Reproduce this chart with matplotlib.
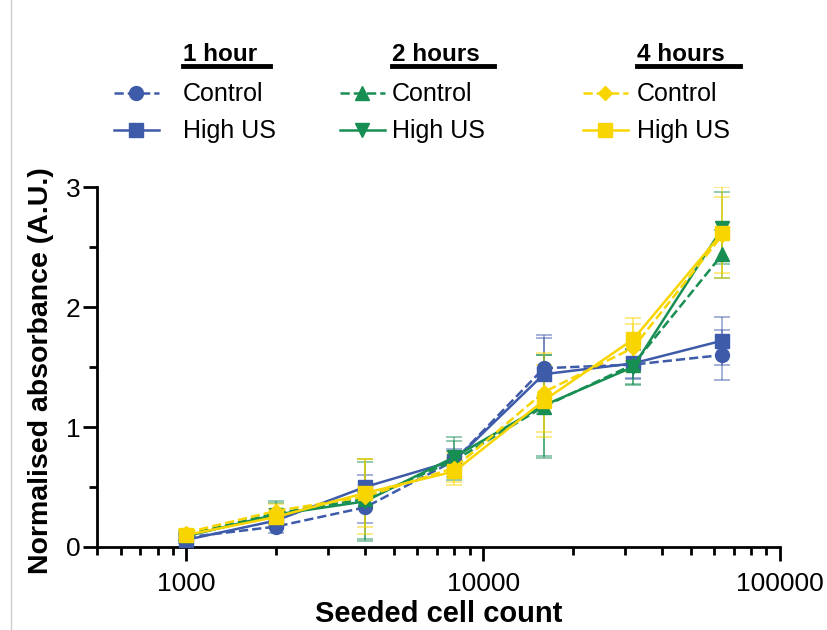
import numpy as np
import matplotlib.pyplot as plt
from matplotlib.lines import Line2D

plt.rcParams['font.family'] = ['Liberation Sans', 'DejaVu Sans']

# ## Data

cells = [1000, 2000, 4000, 8000, 16000, 32000, 64000]

h1_control = [0.08, 0.17, 0.33, 0.72, 1.49, 1.52, 1.60]
h1_control_err = [0.03, 0.05, 0.13, 0.08, 0.25, 0.12, 0.21]
h1_high = [0.06, 0.22, 0.50, 0.72, 1.44, 1.53, 1.72]
h1_high_err = [0.03, 0.06, 0.10, 0.10, 0.33, 0.12, 0.20]

h2_control = [0.10, 0.28, 0.40, 0.72, 1.17, 1.52, 2.44]
h2_control_err = [0.03, 0.09, 0.33, 0.16, 0.43, 0.16, 0.20]
h2_high = [0.09, 0.27, 0.38, 0.75, 1.18, 1.50, 2.66]
h2_high_err = [0.03, 0.11, 0.33, 0.17, 0.42, 0.15, 0.30]

h4_control = [0.12, 0.30, 0.42, 0.66, 1.29, 1.66, 2.60]
h4_control_err = [0.03, 0.06, 0.31, 0.12, 0.33, 0.20, 0.32]
h4_high = [0.10, 0.25, 0.45, 0.63, 1.22, 1.73, 2.62]
h4_high_err = [0.03, 0.07, 0.28, 0.11, 0.30, 0.18, 0.38]

blue = '#3E5BA9'
green = '#178E52'
yellow = '#F8D500'

series = [
    (h1_control, h1_control_err, blue, 'o', '--', 'Control'),
    (h1_high, h1_high_err, blue, 's', '-', 'High US'),
    (h2_control, h2_control_err, green, '^', '--', 'Control'),
    (h2_high, h2_high_err, green, 'v', '-', 'High US'),
    (h4_control, h4_control_err, yellow, 'D', '--', 'Control'),
    (h4_high, h4_high_err, yellow, 's', '-', 'High US'),
]

fig = plt.figure(figsize=(8.28, 6.3), dpi=100)
ax = fig.add_axes([97 / 828, 1 - 547 / 630, (780 - 97) / 828, 360 / 630])

for vals, err, col, mk, ls, lab in series:
    ax.errorbar(cells, vals, yerr=err, fmt='none', ecolor=col, alpha=0.5,
                elinewidth=1.3, capsize=6, capthick=1.3, zorder=2)
    ms = 7.5 if mk == 'D' else 10
    ax.plot(cells, vals, color=col, linestyle=ls, linewidth=1.8,
            marker=mk, markersize=ms, zorder=3, clip_on=False)

ax.set_xscale('log')
ax.set_xlim(500, 100000)
ax.set_ylim(0, 3)
ax.set_xticks([1000, 10000, 100000])
ax.set_xticklabels(['1000', '10000', '100000'])
ax.set_yticks([0, 1, 2, 3])
ax.set_yticks([0.5, 1.5, 2.5], minor=True)

for s in ['top', 'right']:
    ax.spines[s].set_visible(False)
for s in ['left', 'bottom']:
    ax.spines[s].set_linewidth(2)

ax.tick_params(which='major', direction='out', length=10, width=2,
               labelsize=19, pad=8)
ax.tick_params(which='minor', direction='out', length=6, width=2)
ax.tick_params(axis='y', which='major', pad=2)

ax.set_xlabel('Seeded cell count', fontsize=21, fontweight='bold')
ax.xaxis.label.set_verticalalignment('baseline')
ax.xaxis.set_label_coords(0.5, -(622 - 547) / 360)

ax.set_ylabel('Normalised absorbance (A.U.)', fontsize=20.5, fontweight='bold')
ax.yaxis.label.set_verticalalignment('center')
ax.yaxis.set_label_coords((41 - 97) / 683, 0.49)

# ## Legend (drawn by hand, three groups)

def fx(px):
    return px / 828

def fy(py):
    return 1 - py / 630

groups = [
    ('1 hour', 114, 183, 270, [series[0], series[1]]),
    ('2 hours', 340, 392, 494, [series[2], series[3]]),
    ('4 hours', 583, 637, 740, [series[4], series[5]]),
]

for title, hx, tx, ux, items in groups:
    fig.text(fx(tx), fy(61), title, fontsize=17.5, fontweight='bold',
             ha='left', va='baseline')
    fig.add_artist(Line2D([fx(tx), fx(ux)], [fy(66), fy(66)],
                          color='black', linewidth=3.5))
    for (vals, err, col, mk, ls, lab), py in zip(items, [93, 130]):
        fig.add_artist(Line2D([fx(hx), fx(hx + 45)], [fy(py), fy(py)],
                              color=col, linestyle=ls, linewidth=1.8))
        ms = 7.5 if mk == 'D' else 10
        fig.add_artist(Line2D([fx(hx + 22)], [fy(py)], color=col, marker=mk,
                              markersize=ms, linestyle='none'))
        fig.text(fx(tx), fy(py + 1), lab, fontsize=18,
                 ha='left', va='center')

# thin grey border at the left edge
fig.add_artist(Line2D([fx(11), fx(11)], [0, 1], color='#cccccc', linewidth=1))

fig.savefig('out.png', dpi=100)
